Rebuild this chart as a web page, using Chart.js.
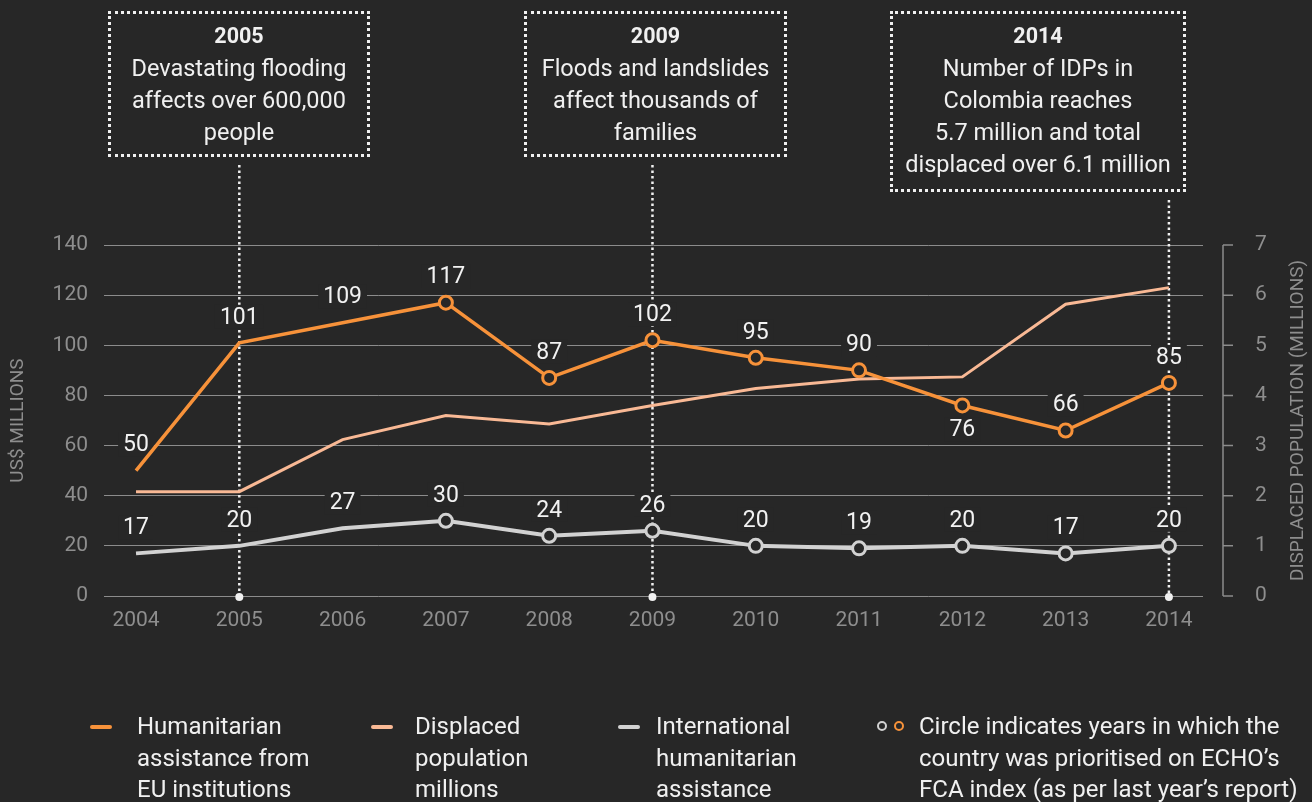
<!DOCTYPE html>
<html>
<head>
<meta charset="utf-8">
<script src="https://cdn.jsdelivr.net/npm/chart.js@4.4.0/dist/chart.umd.min.js"></script>
<style>
  html, body { margin: 0; padding: 0; background: #272727; }
  body { width: 1312px; height: 802px; position: relative; overflow: hidden;
         font-family: Roboto, "Noto Sans", sans-serif; color: #f0f0f0; }
  #chart { position: absolute; left: 0; top: 0; }
  .note { position: absolute; top: 11px; box-sizing: border-box; border: 3px dotted #f0f0f0;
          text-align: center; font-size: 23.5px; line-height: 32px; padding-top: 5px; white-space: nowrap; }
  .note b { font-weight: 700; font-size: 21.5px; }
  .legend { position: absolute; top: 711px; font-size: 24px; line-height: 31.5px; white-space: nowrap; }
  .key { position: absolute; }
  .dash { height: 4px; border-radius: 2px; top: 725px; }
  .ring { width: 6px; height: 6px; border-radius: 50%; border: 2.5px solid; top: 721px; }
</style>
</head>
<body>
<canvas id="chart" width="1312" height="802"></canvas>

<div class="note" data-year="2005" style="left:108px;width:262px;height:146px">
  <b>2005</b><br>Devastating flooding<br>affects over 600,000<br>people
</div>
<div class="note" data-year="2009" style="left:524px;width:263px;height:146px">
  <b>2009</b><br>Floods and landslides<br>affect thousands of<br>families
</div>
<div class="note" data-year="2014" style="left:890px;width:296px;height:181px">
  <b>2014</b><br>Number of IDPs in<br>Colombia reaches<br>5.7 million and total<br>displaced over 6.1 million
</div>

<div class="key dash" style="left:90px;width:22px;background:#f7923a"></div>
<div class="legend" style="left:137px">Humanitarian<br>assistance from<br>EU institutions</div>
<div class="key dash" style="left:371px;width:22px;background:#f9b995"></div>
<div class="legend" style="left:415px">Displaced<br>population<br>millions</div>
<div class="key dash" style="left:618px;width:22px;background:#d2d2d2"></div>
<div class="legend" style="left:656px">International<br>humanitarian<br>assistance</div>
<div class="key ring" style="left:877px;border-color:#d2d2d2"></div>
<div class="key ring" style="left:894px;border-color:#f7923a"></div>
<div class="legend" style="left:919px">Circle indicates years in which the<br>country was prioritised on ECHO’s<br>FCA index (as per last year’s report)</div>

<script>
const years = [2004, 2005, 2006, 2007, 2008, 2009, 2010, 2011, 2012, 2013, 2014];
const euAid = [50, 101, 109, 117, 87, 102, 95, 90, 76, 66, 85];
const displaced = [2.08, 2.08, 3.12, 3.6, 3.43, 3.8, 4.14, 4.33, 4.37, 5.82, 6.15];
const intlAid = [17, 20, 27, 30, 24, 26, 20, 19, 20, 17, 20];
const echoYears = [2007, 2008, 2009, 2010, 2011, 2012, 2013, 2014];
const labelBelow = [2012]; // EU label sits under the point that year
const leftTicks = [0, 20, 40, 60, 80, 100, 120, 140];
const rightTicks = [0, 1, 2, 3, 4, 5, 6, 7];
const rightTitle = "DISPLACED POPULATION (MILLIONS)";

const BG = "#272727";
const GRID = "#8c8c8c";
const TICK = "#8e8e8e";

function pts(vals) {
  return years.map((yr, i) => ({ x: yr, y: vals[i] }));
}
function radii() {
  return years.map((yr) => (echoYears.includes(yr) ? 6.5 : 0));
}

// dotted event lines from the note boxes down to the axis
const eventLines = {
  id: "eventLines",
  beforeDatasetsDraw(chart) {
    const ctx = chart.ctx;
    const x = chart.scales.x;
    const y0 = chart.scales.y.getPixelForValue(0);
    document.querySelectorAll(".note").forEach((el) => {
      const px = x.getPixelForValue(+el.dataset.year);
      const top = el.getBoundingClientRect().bottom + 8;
      ctx.save();
      ctx.strokeStyle = "#f0f0f0";
      ctx.lineWidth = 2.5;
      ctx.setLineDash([2.5, 3]);
      ctx.beginPath();
      ctx.moveTo(px, top);
      ctx.lineTo(px, y0);
      ctx.stroke();
      ctx.setLineDash([]);
      ctx.fillStyle = "#f0f0f0";
      ctx.beginPath();
      ctx.arc(px, y0 + 1, 4, 0, Math.PI * 2);
      ctx.fill();
      ctx.restore();
    });
  },
};

// right axis: line set off from the plot, ticks, and a bottom-to-top title
const rightAxis = {
  id: "rightAxis",
  afterDraw(chart) {
    const ctx = chart.ctx;
    const s = chart.scales.y2;
    const ax = chart.chartArea.right + 20;
    ctx.save();
    ctx.strokeStyle = GRID;
    ctx.lineWidth = 1.5;
    ctx.beginPath();
    ctx.moveTo(ax, s.getPixelForValue(7));
    ctx.lineTo(ax, s.getPixelForValue(0));
    rightTicks.forEach((v) => {
      const py = s.getPixelForValue(v);
      ctx.moveTo(ax, py);
      ctx.lineTo(ax + 10, py);
    });
    ctx.stroke();

    ctx.translate(1298, (s.top + s.bottom) / 2);
    ctx.rotate(-Math.PI / 2);
    ctx.font = "19px Roboto";
    ctx.fillStyle = TICK;
    ctx.textAlign = "center";
    ctx.textBaseline = "middle";
    ctx.fillText(rightTitle, 0, 0);
    ctx.restore();
  },
};

// value labels with a background patch that cuts gridlines and dotted lines
const valueLabels = {
  id: "valueLabels",
  beforeDatasetsDraw(chart) {
    const ctx = chart.ctx;
    ctx.save();
    ctx.font = "23px Roboto";
    ctx.textAlign = "center";
    ctx.textBaseline = "middle";
    [0, 2].forEach((di) => {
      const meta = chart.getDatasetMeta(di);
      const vals = chart.data.datasets[di].data;
      meta.data.forEach((pt, i) => {
        const below = di === 0 && labelBelow.includes(years[i]);
        const ly = below ? pt.y + 24 : pt.y - 26;
        const txt = String(vals[i].y);
        const w = ctx.measureText(txt).width;
        ctx.fillStyle = BG;
        ctx.fillRect(pt.x - w / 2 - 5, ly - 12, w + 10, 24);
        ctx.fillStyle = "#f2f2f2";
        ctx.fillText(txt, pt.x, ly + 1);
      });
    });
    ctx.restore();
  },
};

Chart.defaults.font.family = "Roboto";

new Chart(document.getElementById("chart"), {
  type: "line",
  data: {
    datasets: [
      {
        data: pts(euAid),
        yAxisID: "y",
        borderColor: "#f7923a",
        borderWidth: 3.5,
        pointRadius: radii(),
        pointBackgroundColor: BG,
        pointBorderColor: "#f7923a",
        pointBorderWidth: 3,
        tension: 0,
        order: 1,
      },
      {
        data: pts(displaced),
        yAxisID: "y2",
        borderColor: "#f9b995",
        borderWidth: 3,
        pointRadius: 0,
        tension: 0,
        order: 2,
      },
      {
        data: pts(intlAid),
        yAxisID: "y",
        borderColor: "#d2d2d2",
        borderWidth: 4,
        pointRadius: radii(),
        pointBackgroundColor: BG,
        pointBorderColor: "#d2d2d2",
        pointBorderWidth: 3,
        tension: 0,
        order: 3,
      },
    ],
  },
  options: {
    responsive: false,
    animation: false,
    events: [],
    layout: { padding: { top: 245, left: 0, right: 0, bottom: 0 } },
    plugins: { legend: { display: false }, tooltip: { enabled: false } },
    scales: {
      x: {
        type: "linear",
        min: 2003.69,
        max: 2014.33,
        grid: { display: false },
        border: { display: false },
        afterBuildTicks: (s) => {
          s.ticks = years.map((v) => ({ value: v }));
        },
        afterFit: (s) => {
          s.height = 206;
        },
        ticks: {
          color: TICK,
          font: { size: 21 },
          padding: 4,
          callback: (v) => String(v),
        },
      },
      y: {
        position: "left",
        min: 0,
        max: 140,
        afterBuildTicks: (s) => {
          s.ticks = leftTicks.map((v) => ({ value: v }));
        },
        afterFit: (s) => {
          s.width = 104;
        },
        grid: { color: GRID, lineWidth: 1, drawTicks: false },
        border: { display: false },
        ticks: { color: TICK, font: { size: 21 }, padding: 16 },
        title: {
          display: true,
          text: "US$ MILLIONS",
          color: TICK,
          font: { size: 19 },
          padding: { top: 7, bottom: 4 },
        },
      },
      y2: {
        position: "right",
        min: 0,
        max: 7,
        afterBuildTicks: (s) => {
          s.ticks = rightTicks.map((v) => ({ value: v }));
        },
        afterFit: (s) => {
          s.width = 109;
        },
        grid: { display: false },
        border: { display: false },
        ticks: { color: TICK, font: { size: 21 }, padding: 44 },
      },
    },
  },
  plugins: [eventLines, valueLabels, rightAxis],
});
</script>
</body>
</html>
